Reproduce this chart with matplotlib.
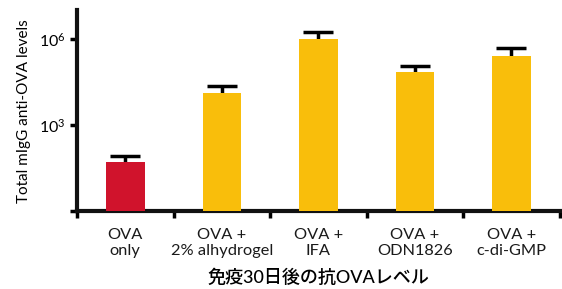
import numpy as np
import matplotlib
matplotlib.use("Agg")
import matplotlib.pyplot as plt
from matplotlib.ticker import FixedLocator, NullFormatter

# данные
groups = ["OVA\nonly", "OVA +\n2% alhydrogel", "OVA +\nIFA", "OVA +\nODN1826", "OVA +\nc-di-GMP"]
means = [50, 13500, 1.0e6, 72000, 257000]
upper_err = [33, 9500, 0.7e6, 45000, 223000]
bar_colors = ["#D0132C", "#F9BE0B", "#F9BE0B", "#F9BE0B", "#F9BE0B"]

plt.rcParams['font.family'] = ['Lato', 'Noto Sans CJK JP', 'DejaVu Sans']
plt.rcParams['mathtext.fontset'] = 'custom'
plt.rcParams['mathtext.rm'] = 'Lato'
plt.rcParams['mathtext.it'] = 'Lato:italic'
plt.rcParams['mathtext.bf'] = 'Lato:bold'

fig = plt.figure(figsize=(5.62, 2.89), dpi=100)
ax = fig.add_axes([0.137, 0.27, 0.859, 0.694])

x = np.arange(len(groups))
tops = np.array(means) + np.array(upper_err)
ax.bar(x, means, width=0.4, color=bar_colors, zorder=3)
# только верхний ус с засечкой
ax.vlines(x, means, tops, color="black", linewidth=2.5, zorder=2)
ax.plot(x, tops, linestyle="none", marker="_", markersize=21,
        markeredgewidth=2.5, color="black", zorder=2)

ax.set_yscale("log")
ax.set_ylim(1, 1e7)
ax.set_xlim(-0.5, len(groups) - 0.5)

# y ticks
ax.yaxis.set_major_locator(FixedLocator([1, 1e3, 1e6]))
ax.set_yticklabels(["", "$\\mathregular{10^3}$", "$\\mathregular{10^6}$"])
ax.yaxis.set_minor_locator(FixedLocator([]))
ax.tick_params(axis="y", which="major", length=5, width=2.5, labelsize=11.5, pad=3)

# x ticks: границы категорий + подписи в центрах
ax.xaxis.set_major_locator(FixedLocator(np.arange(-0.5, len(groups), 1.0)))
ax.xaxis.set_major_formatter(NullFormatter())
ax.xaxis.set_minor_locator(FixedLocator(x))
ax.set_xticklabels(groups, minor=True)
ax.tick_params(axis="x", which="major", length=5, width=2.5)
ax.tick_params(axis="x", which="minor", length=0, labelsize=11.8, pad=12)
for lbl in ax.get_xticklabels(minor=True):
    lbl.set_linespacing(1.25)
    lbl.set_color("#1a1a1a")

for side in ["top", "right"]:
    ax.spines[side].set_visible(False)
for side in ["left", "bottom"]:
    ax.spines[side].set_linewidth(3)
    ax.spines[side].set_color("#111111")

ax.set_ylabel("Total mIgG anti-OVA levels", fontsize=11, labelpad=6)
ax.set_xlabel("免疫30日後の抗OVAレベル", fontsize=13, fontweight="medium", labelpad=7)

fig.savefig("out.png", dpi=100)
